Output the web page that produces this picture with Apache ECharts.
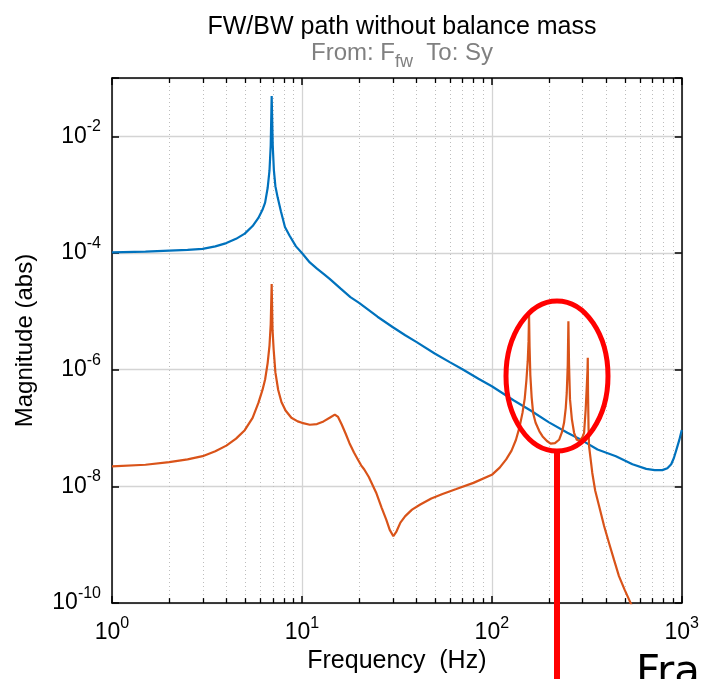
<!DOCTYPE html>
<html>
<head>
<meta charset="utf-8">
<script src="https://cdn.jsdelivr.net/npm/echarts@6/dist/echarts.min.js"></script>
<style>
html,body{margin:0;padding:0;background:#fff;}
#chart{width:702px;height:679px;}
</style>
</head>
<body>
<div id="chart"></div>
<script>
// Frequency (Hz) / magnitude (abs) pairs
const blueFreq = [1, 1.5, 2, 2.5, 3, 3.5, 4, 4.5, 5, 5.5, 5.9, 6.2, 6.4, 6.6, 6.75, 6.85, 6.93, 7.02, 7.12, 7.25, 7.45, 7.75, 8.14, 8.6, 9.3, 10, 11, 12, 13, 14, 16, 18, 20, 25, 30, 35, 40, 50, 60, 70, 85, 100, 130, 160, 200, 250, 300, 360, 450, 550, 650, 720, 790, 840, 880, 910, 940, 970, 1000];
const blueMag = [1.03e-4, 1.06e-4, 1.1e-4, 1.13e-4, 1.18e-4, 1.3e-4, 1.48e-4, 1.75e-4, 2.15e-4, 2.9e-4, 4e-4, 5.5e-4, 7.3e-4, 1.3e-3, 2.6e-3, 7e-3, 4.9e-2, 7e-3, 2.6e-3, 1.4e-3, 9e-4, 5.2e-4, 2.8e-4, 2e-4, 1.3e-4, 1e-4, 6.9e-5, 5.4e-5, 4.4e-5, 3.6e-5, 2.45e-5, 1.75e-5, 1.4e-5, 8.1e-6, 5.4e-6, 3.9e-6, 3e-6, 1.9e-6, 1.35e-6, 1.02e-6, 7e-7, 5.2e-7, 3e-7, 2e-7, 1.25e-7, 8.3e-8, 6.1e-8, 4.3e-8, 3.3e-8, 2.4e-8, 2e-8, 1.9e-8, 1.9e-8, 2.05e-8, 2.4e-8, 3.1e-8, 4.4e-8, 6.2e-8, 9.3e-8];

const orangeFreq = [1, 1.5, 2, 2.5, 3, 3.5, 4, 4.5, 5, 5.5, 5.9, 6.2, 6.4, 6.6, 6.75, 6.85, 6.93, 7.0, 7.1, 7.25, 7.5, 7.8, 8.2, 8.8, 9.5, 10, 11, 12, 13, 14, 14.9, 15.5, 16.2, 17, 17.8, 18.8, 19.7, 20.5, 21.3, 22.5, 24.6, 26.3, 27.8, 29, 30.3, 31.5, 33, 35, 38, 42, 48, 55, 65, 80, 100, 110, 119, 127, 134, 140, 145, 149, 152, 154.5, 156, 157, 158, 159.5, 162, 165, 170, 178, 185, 195, 204, 215, 226, 234, 240, 245, 248, 251, 253, 255, 258, 264, 271, 280, 290, 300, 306, 312, 316, 319, 320, 321, 323, 325, 338, 350, 367, 390, 414, 440, 467, 500, 533, 560];
const orangeMag = [2.2e-8, 2.35e-8, 2.6e-8, 2.9e-8, 3.3e-8, 4e-8, 5e-8, 6.6e-8, 9.2e-8, 1.5e-7, 2.7e-7, 4.5e-7, 6.8e-7, 1.3e-6, 2.6e-6, 6e-6, 2.95e-5, 5e-6, 2.2e-6, 9e-7, 4.5e-7, 2.8e-7, 2e-7, 1.5e-7, 1.3e-7, 1.23e-7, 1.14e-7, 1.17e-7, 1.3e-7, 1.5e-7, 1.7e-7, 1.55e-7, 1.15e-7, 8e-8, 5.5e-8, 3.8e-8, 2.9e-8, 2.3e-8, 1.95e-8, 1.45e-8, 7.8e-9, 4.3e-9, 2.7e-9, 1.8e-9, 1.4e-9, 1.7e-9, 2.4e-9, 3.1e-9, 4e-9, 4.9e-9, 6.2e-9, 7.4e-9, 9e-9, 1.15e-8, 1.58e-8, 2.1e-8, 2.9e-8, 4.1e-8, 6.3e-8, 1.05e-7, 1.82e-7, 3.2e-7, 6.5e-7, 1.4e-6, 3e-6, 8.7e-6, 2.5e-6, 8e-7, 3.4e-7, 1.8e-7, 1.23e-7, 8.8e-8, 7.2e-8, 6e-8, 5.4e-8, 5.5e-8, 6.3e-8, 8.5e-8, 1.23e-7, 2.2e-7, 4e-7, 1.2e-6, 6.8e-6, 1.2e-6, 3.1e-7, 1.4e-7, 8.3e-8, 6.3e-8, 6e-8, 7e-8, 8.3e-8, 2.1e-7, 5e-7, 1e-6, 1.6e-6, 4e-7, 1e-7, 4.9e-8, 1.7e-8, 8.5e-9, 4.6e-9, 2.1e-9, 1.07e-9, 5.5e-10, 2.9e-10, 1.7e-10, 1.07e-10, 7.4e-11];

// Minor x grid positions (log decades)
const minorTicks = [2,3,4,5,6,7,8,9,20,30,40,50,60,70,80,90,200,300,400,500,600,700,800,900];

const titleText = 'FW/BW path without balance mass';
const xName = 'Frequency  (Hz)';
const yName = 'Magnitude (abs)';

const FONT = '"Liberation Sans", Arial, Helvetica, sans-serif';
const zip = (a, b) => a.map((v, i) => [v, b[i]]);

const chart = echarts.init(document.getElementById('chart'), null, {renderer: 'canvas'});

const supRich = {
  b: {fontSize: 23, fontFamily: FONT, color: '#000', verticalAlign: 'bottom'},
  s: {fontSize: 16, fontFamily: FONT, color: '#000', verticalAlign: 'bottom', padding: [0, 0, 13, 0]}
};
const expFmt = v => '{b|10}{s|' + Math.round(Math.log10(v)) + '}';
const yFmt = v => {
  const e = Math.round(Math.log10(v));
  if (e % 2 !== 0) return '';
  return '{b|10}{s|' + e + '}';
};

const axisLineStyle = {show: true, onZero: false, lineStyle: {color: '#000', width: 1.5}};
const tickStyle = {show: true, inside: true, length: 7, lineStyle: {color: '#000', width: 1.5}};

const option = {
  animation: false,
  backgroundColor: '#fff',
  title: [{
    text: titleText,
    left: 397, top: 10, textAlign: 'center',
    textStyle: {fontFamily: FONT, fontSize: 25, fontWeight: 'normal', color: '#000'}
  }, {
    text: '{a|From: F}{s|fw}{a|  To: Sy}',
    left: 397, top: 36, textAlign: 'center',
    textStyle: {
      fontWeight: 'normal',
      rich: {
        a: {fontFamily: FONT, fontSize: 24, fontWeight: 'normal', color: '#808080', verticalAlign: 'top'},
        s: {fontFamily: FONT, fontSize: 18, fontWeight: 'normal', color: '#808080', verticalAlign: 'top', padding: [12, 0, 0, 0]}
      }
    }
  }],
  grid: {left: 112, right: 19, top: 78, bottom: 75, show: false},
  xAxis: [{
    type: 'log', logBase: 10, min: 1, max: 1000,
    position: 'bottom',
    name: xName, nameLocation: 'middle', nameGap: 44,
    nameTextStyle: {fontFamily: FONT, fontSize: 25, color: '#000'},
    axisLine: axisLineStyle,
    axisTick: tickStyle,
    axisLabel: {formatter: expFmt, margin: 12, rich: supRich},
    splitLine: {show: true, lineStyle: {color: '#d4d4d4', width: 1.3}}
  }, {
    type: 'log', logBase: 10, min: 1, max: 1000,
    position: 'top',
    axisLine: axisLineStyle,
    axisTick: tickStyle,
    axisLabel: {show: false},
    splitLine: {show: false}
  }],
  yAxis: [{
    type: 'log', logBase: 100, min: 1e-10, max: 1e-1,
    position: 'left',
    name: yName, nameLocation: 'middle', nameGap: 75,
    nameTextStyle: {fontFamily: FONT, fontSize: 24, color: '#000'},
    axisLine: axisLineStyle,
    axisTick: tickStyle,
    axisLabel: {formatter: yFmt, margin: 11, rich: supRich, padding: [0, 0, 6, 0]},
    splitLine: {show: true, lineStyle: {color: '#d4d4d4', width: 1.3}}
  }, {
    type: 'log', logBase: 100, min: 1e-10, max: 1e-1,
    position: 'right',
    axisLine: axisLineStyle,
    axisTick: tickStyle,
    axisLabel: {show: false},
    splitLine: {show: false}
  }],
  series: [{
    type: 'custom',
    xAxisIndex: 0, yAxisIndex: 0,
    silent: true, z: 1,
    clip: false,
    data: minorTicks.map(f => [f, 1e-5]),
    renderItem: function (params, api) {
      const cs = params.coordSys;
      const x = Math.round(api.coord([api.value(0), 1e-5])[0]) + 0.5;
      const top = cs.y, bot = cs.y + cs.height;
      return {
        type: 'group',
        children: [{
          type: 'line',
          shape: {x1: x, y1: top, x2: x, y2: bot},
          style: {stroke: '#bdbdbd', lineWidth: 1, lineDash: [1, 3]}
        }, {
          type: 'line',
          shape: {x1: x, y1: bot, x2: x, y2: bot - 5},
          style: {stroke: '#000', lineWidth: 1.3}
        }, {
          type: 'line',
          shape: {x1: x, y1: top, x2: x, y2: top + 5},
          style: {stroke: '#000', lineWidth: 1.3}
        }]
      };
    }
  }, {
    name: 'FW',
    type: 'line',
    data: zip(blueFreq, blueMag),
    showSymbol: false, symbol: 'none',
    lineStyle: {color: '#0072BD', width: 2.2},
    z: 3
  }, {
    name: 'BW',
    type: 'line',
    data: zip(orangeFreq, orangeMag),
    showSymbol: false, symbol: 'none',
    lineStyle: {color: '#D95319', width: 2.2},
    z: 4
  }],
  graphic: [{
    type: 'ellipse',
    shape: {cx: 557, cy: 376, rx: 51, ry: 75},
    style: {fill: null, stroke: '#ff0000', lineWidth: 5},
    z: 100
  }, {
    type: 'line',
    shape: {x1: 557, y1: 451, x2: 557, y2: 690},
    style: {stroke: '#ff0000', lineWidth: 6},
    z: 100
  }, {
    type: 'text',
    left: 636, top: 653,
    style: {text: 'Fra', fontSize: 42, fontFamily: '"DejaVu Sans", sans-serif', fill: '#000'},
    z: 100
  }]
};
chart.setOption(option);
</script>
</body>
</html>
